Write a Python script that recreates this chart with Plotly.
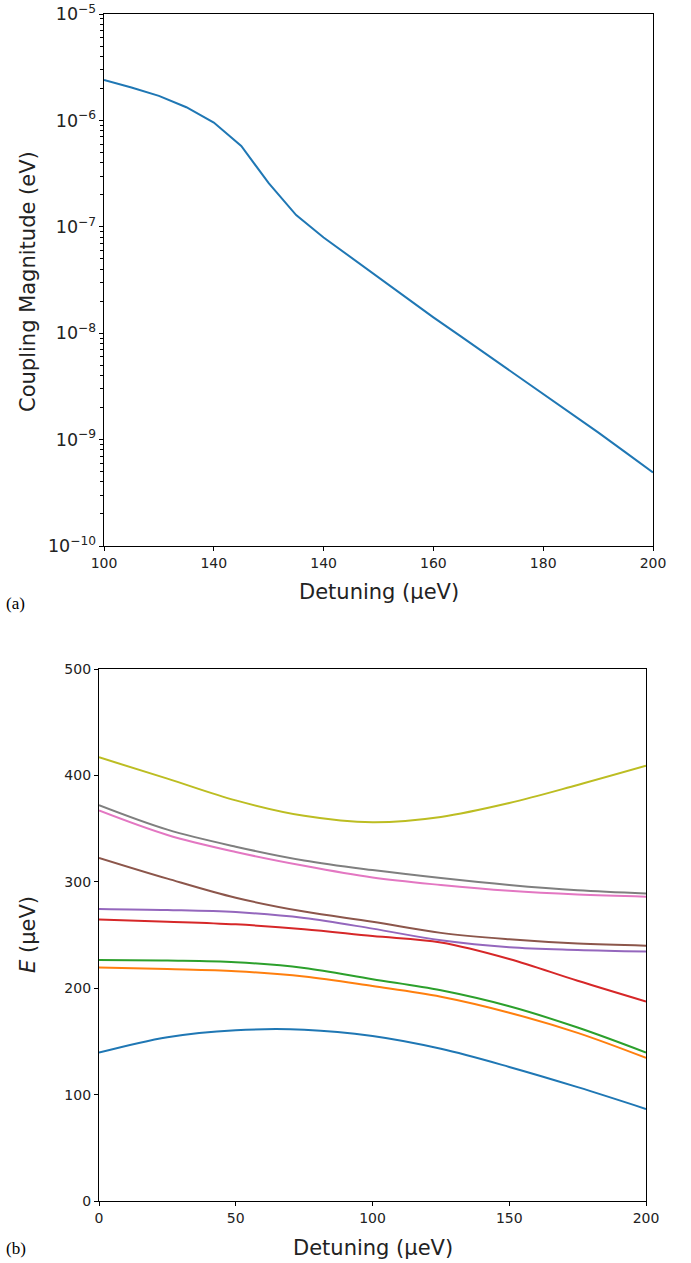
import plotly.graph_objects as go

# ---------- Panel (a) data ----------
detuning_a = [100, 105, 110, 115, 120, 125, 130, 135, 140, 145, 150,
              155, 160, 165, 170, 175, 180, 185, 190, 195, 200]
coupling_ev = [2.40e-6, 2.04e-6, 1.70e-6, 1.33e-6, 9.55e-7, 5.75e-7, 2.57e-7,
               1.29e-7, 7.94e-8, 5.13e-8, 3.31e-8, 2.14e-8, 1.41e-8, 9.33e-9,
               6.17e-9, 4.07e-9, 2.69e-9, 1.78e-9, 1.17e-9, 7.59e-10, 4.90e-10]
xtick_vals_a = [100, 120, 140, 160, 180, 200]
xtick_text_a = ["100", "140", "140", "160", "180", "200"]

# ---------- Panel (b) data ----------
detuning_b = [0, 25, 50, 75, 100, 125, 150, 175, 200]
level_1 = [139.5, 154.0, 160.5, 161.0, 155.0, 143.0, 126.0, 107.0, 86.5]
level_2 = [219.5, 218.0, 216.0, 211.0, 202.0, 192.0, 177.0, 158.0, 134.5]
level_3 = [226.5, 226.0, 224.5, 219.0, 208.5, 198.0, 183.0, 163.0, 139.5]
level_4 = [264.5, 262.5, 260.0, 255.5, 249.0, 243.0, 227.5, 207.0, 187.5]
level_5 = [274.5, 273.5, 271.5, 266.0, 256.0, 245.0, 238.5, 236.0, 234.5]
level_6 = [322.5, 303.0, 285.0, 272.0, 262.5, 252.0, 246.0, 242.0, 240.0]
level_7 = [367.0, 344.0, 328.0, 315.0, 304.0, 297.0, 291.5, 288.0, 286.0]
level_8 = [372.0, 349.0, 333.0, 320.0, 311.0, 303.5, 297.0, 292.0, 289.0]
level_9 = [417.0, 397.0, 376.5, 362.0, 356.0, 361.0, 374.0, 391.0, 409.0]
levels = [level_1, level_2, level_3, level_4, level_5,
          level_6, level_7, level_8, level_9]
colors = ["#1f77b4", "#ff7f0e", "#2ca02c", "#d62728", "#9467bd",
          "#8c564b", "#e377c2", "#7f7f7f", "#bcbd22"]

W, H = 691, 1263
FONT = "DejaVu Sans"

fig = go.Figure()
fig.add_trace(go.Scatter(x=detuning_a, y=coupling_ev, mode="lines",
                         line=dict(color="#1f77b4", width=2),
                         xaxis="x", yaxis="y", showlegend=False))
for lv, c in zip(levels, colors):
    fig.add_trace(go.Scatter(x=detuning_b, y=lv, mode="lines",
                             line=dict(color=c, width=2, shape="spline", smoothing=1.0),
                             xaxis="x2", yaxis="y2", showlegend=False))

axis_common = dict(showline=True, linecolor="black", linewidth=1.2, mirror=True,
                   ticks="outside", ticklen=4, tickwidth=1, tickcolor="black",
                   showgrid=False, zeroline=False, automargin=False,
                   tickfont=dict(family=FONT, size=14, color="#222"))

# plot area pixel boxes
ax_a = (104, 653, 14, 546)   # left, right, top, bottom
ax_b = (99, 646, 669, 1201)

def xdom(b):
    return [b[0] / W, b[1] / W]

def ydom(b):
    return [1 - b[3] / H, 1 - b[2] / H]

fig.update_layout(
    width=W, height=H,
    margin=dict(l=0, r=0, t=0, b=0),
    paper_bgcolor="white", plot_bgcolor="white",
    font=dict(family=FONT, color="#222"),
    xaxis=dict(domain=xdom(ax_a), anchor="y", range=[100, 200],
               tickmode="array", tickvals=xtick_vals_a, ticktext=xtick_text_a,
               **axis_common),
    yaxis=dict(domain=ydom(ax_a), anchor="x", type="log", range=[-10, -5],
               dtick=1, exponentformat="power", showexponent="all",
               minor=dict(ticks="outside", ticklen=2.5, tickwidth=1,
                          tickcolor="black", dtick="D1", showgrid=False),
               **axis_common),
    xaxis2=dict(domain=xdom(ax_b), anchor="y2", range=[0, 200], dtick=50,
                **axis_common),
    yaxis2=dict(domain=ydom(ax_b), anchor="x2", range=[0, 500], dtick=100,
                **axis_common),
)

title_font = dict(family=FONT, size=21, color="#222")
ann = [
    dict(text="Detuning (μeV)", x=(ax_a[0] + ax_a[1]) / 2 / W, y=1 - 592 / H,
         xref="paper", yref="paper", showarrow=False, font=title_font,
         xanchor="center", yanchor="middle"),
    dict(text="Coupling Magnitude (eV)", x=28 / W, y=1 - 282 / H,
         xref="paper", yref="paper", showarrow=False, font=title_font,
         textangle=-90, xanchor="center", yanchor="middle"),
    dict(text="Detuning (μeV)", x=(ax_b[0] + ax_b[1]) / 2 / W, y=1 - 1248 / H,
         xref="paper", yref="paper", showarrow=False, font=title_font,
         xanchor="center", yanchor="middle"),
    dict(text="<i>E</i> (μeV)", x=28 / W, y=1 - 935 / H,
         xref="paper", yref="paper", showarrow=False, font=title_font,
         textangle=-90, xanchor="center", yanchor="middle"),
    dict(text="(a)", x=4 / W, y=1 - 603 / H, xref="paper", yref="paper",
         showarrow=False, xanchor="left", yanchor="middle",
         font=dict(family="Liberation Serif", size=17, color="black")),
    dict(text="(b)", x=4 / W, y=1 - 1248 / H, xref="paper", yref="paper",
         showarrow=False, xanchor="left", yanchor="middle",
         font=dict(family="Liberation Serif", size=17, color="black")),
]
fig.update_layout(annotations=ann)

fig.write_html(
    "out.html",
    config={"displayModeBar": False},
    post_script="document.body.style.margin='0';document.body.style.padding='0';"
                "document.body.style.overflow='hidden';"
                "document.documentElement.style.overflow='hidden';",
)
